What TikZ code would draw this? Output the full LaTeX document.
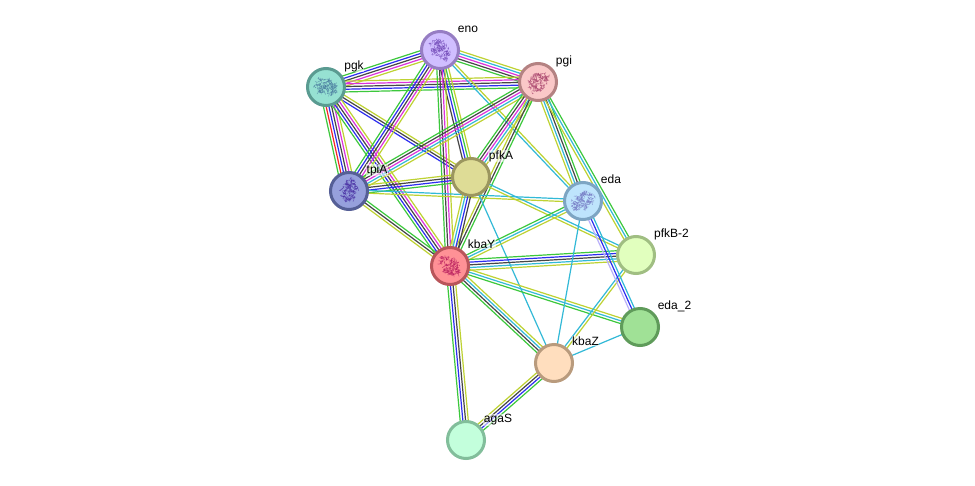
\documentclass[tikz,border=0pt]{standalone}
\usepackage{fontspec}
\setmainfont{Liberation Sans}
\usetikzlibrary{calc}
\pgfdeclarelayer{edges}
\pgfsetlayers{edges,main}

% evidence channel colours
\definecolor{cg}{RGB}{60,200,60}
\definecolor{cb}{RGB}{45,45,240}
\definecolor{ck}{RGB}{70,70,70}
\definecolor{cm}{RGB}{220,50,220}
\definecolor{cy}{RGB}{190,210,50}
\definecolor{cc}{RGB}{50,185,215}
\definecolor{cr}{RGB}{245,40,40}
\definecolor{cl}{RGB}{185,175,250}

% bubble outline and fill colours
\definecolor{enoD}{RGB}{150,125,195}  \definecolor{enoF}{RGB}{208,190,255}
\definecolor{pgiD}{RGB}{180,130,130}  \definecolor{pgiF}{RGB}{250,200,200}
\definecolor{pgkD}{RGB}{90,155,145}   \definecolor{pgkF}{RGB}{150,225,210}
\definecolor{pfkAD}{RGB}{155,150,95}  \definecolor{pfkAF}{RGB}{222,220,150}
\definecolor{tpiAD}{RGB}{85,95,150}   \definecolor{tpiAF}{RGB}{150,160,220}
\definecolor{edaD}{RGB}{125,165,195}  \definecolor{edaF}{RGB}{190,228,252}
\definecolor{kbaYD}{RGB}{185,85,90}   \definecolor{kbaYF}{RGB}{255,145,150}
\definecolor{pfkBD}{RGB}{160,190,130} \definecolor{pfkBF}{RGB}{225,255,190}
\definecolor{edaBD}{RGB}{95,155,90}   \definecolor{edaBF}{RGB}{160,225,150}
\definecolor{kbaZD}{RGB}{185,155,125} \definecolor{kbaZF}{RGB}{255,222,190}
\definecolor{agaSD}{RGB}{130,190,155} \definecolor{agaSF}{RGB}{195,255,220}

% ribbon colours
\definecolor{enoR}{RGB}{115,75,185}
\definecolor{pgiR}{RGB}{170,70,110}
\definecolor{pgkR}{RGB}{75,125,160}
\definecolor{tpiAR}{RGB}{75,50,165}
\definecolor{edaR}{RGB}{115,120,195}
\definecolor{kbaYR}{RGB}{185,30,95}

\tikzset{
  edge/.style={line width=1.2pt},
  protein/.style={circle,draw=#1D,fill=#1F,line width=3pt,minimum size=37pt,inner sep=0pt},
  tag/.style={font=\fontsize{12}{14}\selectfont,text=black,fill=white,fill opacity=.55,text opacity=1,inner sep=.5pt}
}

% one line per colour, spread evenly across the direction from #1 to #2
\newcount\bundlen
\newcommand\bundle[3]{%
  \global\bundlen=0
  \foreach \c in {#3}{\global\advance\bundlen by 1}%
  \foreach \c [count=\i] in {#3}{%
    \pgfmathsetmacro\off{(\i-(\the\bundlen+1)/2)*2.7}%
    \draw[edge,draw=\c] ($(#1)!\off pt!90:(#2)$) -- ($(#2)!\off pt!-90:(#1)$);
  }%
}

% small tangled ribbon sketch inside a protein bubble
\newcommand\fold[4]{%
  \begin{scope}[shift={(#1)},rotate=#3]
    \pgfmathsetseed{#4}
    \foreach \k in {1,...,120}{%
      \pgfmathsetmacro\ang{rnd*360}%
      \pgfmathsetmacro\rad{sqrt(rnd)}%
      \pgfmathsetmacro\px{12*\rad*cos(\ang)}%
      \pgfmathsetmacro\py{8*\rad*sin(\ang)}%
      \pgfmathsetmacro\qx{\px+5*(rnd-.5)}%
      \pgfmathsetmacro\qy{\py+5*(rnd-.5)}%
      \pgfmathsetmacro\rx{\px+5*(rnd-.5)}%
      \pgfmathsetmacro\ry{\py+5*(rnd-.5)}%
      \draw[#2,draw opacity=.75,line width=.4pt,line cap=round] (\px,\py) .. controls (\qx,\qy) .. (\rx,\ry);
    }
  \end{scope}%
}

\begin{document}
\begin{tikzpicture}[x=1pt,y=-1pt]
\useasboundingbox (0,0) rectangle (975,485);

% protein bubbles
\node[protein=eno]  (eno)  at (440,50) {};
\node[protein=pgi]  (pgi)  at (538,82) {};
\node[protein=pgk]  (pgk)  at (326,87) {};
\node[protein=pfkA] (pfkA) at (471,177) {};
\node[protein=tpiA] (tpiA) at (349,191) {};
\node[protein=eda]  (eda)  at (583,201) {};
\node[protein=kbaY] (kbaY) at (450,266) {};
\node[protein=pfkB] (pfkB) at (636,255) {};
\node[protein=edaB] (edaB) at (640,327) {};
\node[protein=kbaZ] (kbaZ) at (554,363) {};
\node[protein=agaS] (agaS) at (466,440) {};

% ribbon sketches
\fold{eno}{enoR}{-50}{11}
\fold{pgi}{pgiR}{40}{12}
\fold{pgk}{pgkR}{-25}{13}
\fold{tpiA}{tpiAR}{80}{14}
\fold{eda}{edaR}{30}{15}
\fold{kbaY}{kbaYR}{-35}{16}

% name tags
\node[tag] (teno)  at (468,29)  {eno};
\node[tag] (tpgi)  at (564,61)  {pgi};
\node[tag] (tpgk)  at (354,66)  {pgk};
\node[tag] (tpfkA) at (501,156) {pfkA};
\node[tag] (ttpiA) at (377,170) {tpiA};
\node[tag] (teda)  at (611,179) {eda};
\node[tag] (tkbaY) at (481.5,244) {kbaY};
\node[tag] (tpfkB) at (671.5,234) {pfkB-2};
\node[tag] (tedaB) at (674.5,306) {eda\_2};
\node[tag] (tkbaZ) at (585.5,341) {kbaZ};
\node[tag] (tagaS) at (498,420) {agaS};

% In each list the first colour lies clockwise of the drawing direction.
\begin{pgfonlayer}{edges}
\fill[white] (0,0) rectangle (975,485);
\bundle{eno}{pgi}{cg,ck,cm,cc,cy}
\bundle{pgk}{eno}{cy,cm,ck,cb,cg}
\bundle{pgk}{pgi}{cg,cb,ck,cm,cy}
\bundle{pgk}{tpiA}{cg,cr,cb,ck,cm,cy}
\bundle{pgk}{pfkA}{cb,ck,cy}
\bundle{pgk}{kbaY}{cg,cb,ck,cm,cy}
\bundle{eno}{tpiA}{cg,cb,ck,cm,cy}
\bundle{eno}{pfkA}{ck,cb,cg,cy}
\bundle{eno}{kbaY}{cg,ck,cm,cy}
\bundle{eno}{eda}{cc,cy}
\bundle{pgi}{tpiA}{cg,ck,cm,cc,cy}
\bundle{pgi}{pfkA}{cg,ck,cm,cc,cy}
\bundle{pgi}{kbaY}{cy,ck,cg}
\bundle{pgi}{eda}{cy,cc,ck,cg}
\bundle{pgi}{pfkB}{cy,cc,cg}
\bundle{tpiA}{pfkA}{cg,cb,ck,cy}
\bundle{tpiA}{kbaY}{cy,ck,cg}
\bundle{tpiA}{eda}{cy,cc}
\bundle{pfkA}{kbaY}{cy,cc,cb,ck}
\bundle{pfkA}{kbaZ}{cc}
\bundle{pfkA}{pfkB}{cy,cc}
\bundle{kbaY}{eda}{cy,cc,cg}
\bundle{kbaY}{pfkB}{cy,cc,ck,cb,cg}
\bundle{kbaY}{edaB}{cg,cc,cy}
\bundle{kbaY}{kbaZ}{cg,ck,cc,cy}
\bundle{kbaY}{agaS}{cg,cb,ck,cy}
\bundle{kbaZ}{agaS}{cy,ck,cb,cg}
\bundle{kbaZ}{eda}{cc}
\bundle{kbaZ}{edaB}{cc}
\bundle{kbaZ}{pfkB}{cy,cc}
\bundle{eda}{edaB}{cl,cb,cc}
\end{pgfonlayer}
\end{tikzpicture}
\end{document}
